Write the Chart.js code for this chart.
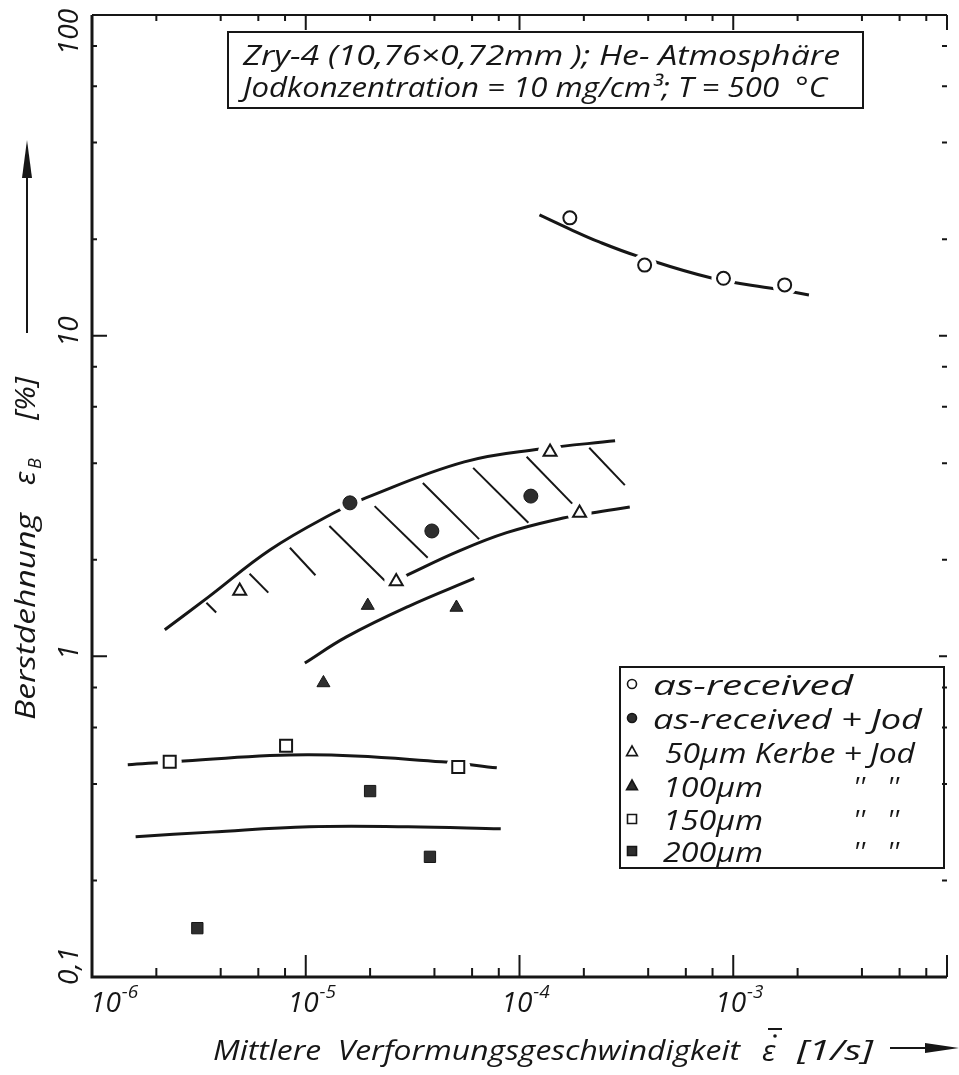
<!DOCTYPE html>
<html>
<head>
<meta charset="utf-8">
<title>Berstdehnung</title>
<script src="https://cdn.jsdelivr.net/npm/chart.js@4.4.0/dist/chart.umd.min.js"></script>
<style>
    html, body { margin: 0; padding: 0; background: #fff; }
    canvas { display: block; }
</style>
</head>
<body>
<canvas id="chart" width="959" height="1075"></canvas>
<script>
// ==================== DATA ====================

// measured points (strain rate 1/s, burst strain %)
const asReceivedX = [1.72e-4, 3.85e-4, 9.0e-4, 1.74e-3];
const asReceivedY = [23.3, 16.6, 15.1, 14.4];
const jodX = [1.61e-5, 3.89e-5, 1.13e-4];
const jodY = [3.01, 2.46, 3.16];
const kerbe50X = [4.91e-6, 2.65e-5, 1.39e-4, 1.91e-4];
const kerbe50Y = [1.60, 1.71, 4.34, 2.80];
const kerbe100X = [1.21e-5, 1.95e-5, 5.07e-5];
const kerbe100Y = [0.826, 1.44, 1.42];
const kerbe150X = [2.31e-6, 8.09e-6, 5.17e-5];
const kerbe150Y = [0.469, 0.526, 0.452];
const kerbe200X = [3.11e-6, 2.0e-5, 3.81e-5];
const kerbe200Y = [0.142, 0.380, 0.237];

// hand drawn fit curves
const curveAsRecX = [1.24e-4, 1.72e-4, 2.36e-4, 3.57e-4, 8.0e-4, 1.56e-3, 2.26e-3];
const curveAsRecY = [23.8, 21.5, 19.6, 17.7, 15.1, 14.0, 13.4];
const bandUpperX = [2.19e-6, 3.50e-6, 6.82e-6, 1.35e-5, 1.91e-5, 5.52e-5, 1.25e-4, 2.80e-4];
const bandUpperY = [1.21, 1.53, 2.15, 2.80, 3.12, 4.04, 4.43, 4.70];
const bandLowerX = [2.92e-5, 5.13e-5, 8.71e-5, 1.60e-4, 2.17e-4, 3.28e-4];
const bandLowerY = [1.78, 2.12, 2.43, 2.70, 2.80, 2.92];
const curve100X = [9.9e-6, 1.55e-5, 3.01e-5, 6.14e-5];
const curve100Y = [0.953, 1.15, 1.43, 1.75];
const curve150X = [1.47e-6, 2.69e-6, 1.04e-5, 4.33e-5, 7.83e-5];
const curve150Y = [0.459, 0.472, 0.493, 0.469, 0.449];
const curve200X = [1.60e-6, 3.61e-6, 1.04e-5, 3.01e-5, 8.17e-5];
const curve200Y = [0.274, 0.283, 0.294, 0.294, 0.290];

// hatching between the two band curves
const hatchFromX = [3.43e-6, 5.46e-6, 8.43e-6, 1.29e-5, 2.10e-5, 3.53e-5, 6.07e-5, 1.08e-4, 2.12e-4];
const hatchFromY = [1.47, 1.81, 2.18, 2.55, 2.94, 3.47, 3.87, 4.19, 4.47];
const hatchToX = [3.81e-6, 6.68e-6, 1.11e-5, 2.41e-5, 3.72e-5, 6.47e-5, 1.10e-4, 1.83e-4, 3.11e-4];
const hatchToY = [1.37, 1.58, 1.79, 1.69, 2.03, 2.32, 2.61, 2.92, 3.42];

// axis ticks
const xTickExponents = [-6, -5, -4, -3];
const yTickValues = [100, 10, 1, 0.1];
const yTickLabels = ['100', '10', '1', '0,1'];
const minorSteps = [2, 4, 6, 8];

const legendLabels = ['as-received', 'as-received + Jod', '50µm Kerbe + Jod', '100µm', '150µm', '200µm'];

// ==================== HELPERS ====================

const INK = '#161616';
const FILL = '#2e2e2e';
const FONT = '"Open Sans", "DejaVu Sans", sans-serif';

function pts(xs, ys) {
    return xs.map((x, i) => ({ x: x, y: ys[i] }));
}

function curve(xs, ys) {
    return {
        data: pts(xs, ys),
        showLine: true,
        pointRadius: 0,
        borderColor: INK,
        borderWidth: 3,
        tension: 0.4,
        order: 3
    };
}

function markers(xs, ys, style, radius, filled) {
    return {
        data: pts(xs, ys),
        showLine: false,
        pointStyle: style,
        pointRadius: radius,
        pointBackgroundColor: filled ? FILL : '#fff',
        pointBorderColor: INK,
        pointBorderWidth: filled ? 1 : 2,
        order: 1
    };
}

// white disc under a marker so the curve breaks around it
function halo(xs, ys, flags) {
    return {
        data: pts(xs, ys),
        showLine: false,
        pointStyle: 'circle',
        pointRadius: flags.map(f => f ? 12 : 0),
        pointBackgroundColor: '#fff',
        pointBorderWidth: 0,
        order: 2
    };
}

function fitText(ctx, text, x, y, width) {
    const m = ctx.measureText(text).width;
    ctx.save();
    ctx.translate(x, y);
    ctx.scale(width / m, 1);
    ctx.fillText(text, 0, 0);
    ctx.restore();
}

function drawMarker(ctx, style, x, y, s, filled) {
    ctx.beginPath();
    if (style === 'circle') {
        ctx.arc(x, y, s, 0, Math.PI * 2);
    } else if (style === 'triangle') {
        ctx.moveTo(x, y - s);
        ctx.lineTo(x + s * 0.9, y + s * 0.6);
        ctx.lineTo(x - s * 0.9, y + s * 0.6);
        ctx.closePath();
    } else {
        ctx.rect(x - s, y - s, s * 2, s * 2);
    }
    ctx.fillStyle = filled ? FILL : '#fff';
    ctx.fill();
    ctx.lineWidth = 1.6;
    ctx.strokeStyle = INK;
    ctx.stroke();
}

// ==================== DECORATION PLUGIN ====================

const framePlugin = {
    id: 'frame',
    afterDraw(chart) {
        const ctx = chart.ctx;
        const xs = chart.scales.x;
        const ys = chart.scales.y;
        const a = chart.chartArea;
        ctx.save();
        ctx.strokeStyle = INK;
        ctx.fillStyle = INK;

        // frame
        ctx.lineWidth = 3;
        ctx.beginPath();
        ctx.moveTo(a.left, a.top);
        ctx.lineTo(a.left, a.bottom);
        ctx.lineTo(a.right, a.bottom);
        ctx.stroke();
        ctx.lineWidth = 2;
        ctx.beginPath();
        ctx.moveTo(a.left, a.top);
        ctx.lineTo(a.right, a.top);
        ctx.stroke();

        // x ticks (inside, bottom and top)
        ctx.lineWidth = 2;
        xTickExponents.concat([-2]).forEach(e => {
            [1].concat(minorSteps).forEach(m => {
                const v = m * Math.pow(10, e);
                if (v > xs.max) return;
                const px = xs.getPixelForValue(v);
                const major = m === 1;
                ctx.beginPath();
                ctx.moveTo(px, a.bottom);
                ctx.lineTo(px, a.bottom - (major ? 22 : 9));
                ctx.moveTo(px, a.top);
                ctx.lineTo(px, a.top + (major ? 15 : 6));
                ctx.stroke();
            });
        });

        // y ticks (inside, left and right)
        [0.1, 1, 10].forEach(d => {
            [1].concat(minorSteps).forEach(m => {
                const py = ys.getPixelForValue(m * d);
                const major = m === 1;
                ctx.beginPath();
                ctx.moveTo(a.left, py);
                ctx.lineTo(a.left + (major ? 15 : 5), py);
                ctx.moveTo(a.right, py);
                ctx.lineTo(a.right - (major ? 8 : 5), py);
                ctx.stroke();
            });
        });

        // x tick labels 10^e
        xTickExponents.forEach(e => {
            const px = xs.getPixelForValue(Math.pow(10, e));
            const left = Math.max(px - 18, a.left - 2);
            ctx.font = 'italic 28px ' + FONT;
            ctx.textAlign = 'left';
            ctx.fillText('10', left, 1012);
            const w = ctx.measureText('10').width;
            ctx.font = 'italic 19px ' + FONT;
            ctx.fillText('-' + Math.abs(e), left + w + 1, 998);
        });

        // y tick labels (rotated)
        ctx.font = 'italic 28px ' + FONT;
        ctx.textAlign = 'center';
        yTickValues.forEach((v, i) => {
            const py = ys.getPixelForValue(v);
            const cy = Math.min(Math.max(py - 4, 32), 966);
            ctx.save();
            ctx.translate(78, cy);
            ctx.rotate(-Math.PI / 2);
            ctx.fillText(yTickLabels[i], 0, 0);
            ctx.restore();
        });

        // x axis title
        ctx.textAlign = 'left';
        ctx.font = 'italic 28px ' + FONT;
        fitText(ctx, 'Mittlere  Verformungsgeschwindigkeit', 213, 1060, 527);
        ctx.font = 'italic 30px ' + FONT;
        ctx.fillText('ε', 762, 1061);
        ctx.lineWidth = 2;
        ctx.beginPath();
        ctx.moveTo(768, 1029);
        ctx.lineTo(782, 1029);
        ctx.stroke();
        ctx.beginPath();
        ctx.arc(775, 1036, 1.8, 0, Math.PI * 2);
        ctx.fill();
        ctx.font = 'italic 28px ' + FONT;
        fitText(ctx, '[1/s]', 797, 1060, 76);
        ctx.lineWidth = 2;
        ctx.beginPath();
        ctx.moveTo(890, 1048);
        ctx.lineTo(928, 1048);
        ctx.stroke();
        ctx.beginPath();
        ctx.moveTo(959, 1048);
        ctx.lineTo(925, 1043);
        ctx.lineTo(925, 1053);
        ctx.closePath();
        ctx.fill();

        // y axis title (rotated)
        ctx.save();
        ctx.translate(35, 0);
        ctx.rotate(-Math.PI / 2);
        // after rotation: local x = -screen y, local y = screen x - 35
        ctx.font = 'italic 28px ' + FONT;
        fitText(ctx, 'Berstdehnung', -720, 0, 207);
        ctx.font = 'italic 30px ' + FONT;
        ctx.fillText('ε', -485, 0);
        ctx.font = 'italic 18px ' + FONT;
        ctx.fillText('B', -469, 6);
        ctx.font = 'italic 28px ' + FONT;
        fitText(ctx, '[%]', -420, 0, 43);
        ctx.restore();
        ctx.lineWidth = 2;
        ctx.beginPath();
        ctx.moveTo(27, 333);
        ctx.lineTo(27, 175);
        ctx.stroke();
        ctx.beginPath();
        ctx.moveTo(27, 140);
        ctx.lineTo(22, 178);
        ctx.lineTo(32, 178);
        ctx.closePath();
        ctx.fill();

        // title box
        ctx.lineWidth = 2;
        ctx.strokeRect(228, 32, 635, 76);
        ctx.font = 'italic 28px ' + FONT;
        ctx.textAlign = 'left';
        fitText(ctx, 'Zry-4 (10,76×0,72mm ); He- Atmosphäre', 243, 65, 597);
        fitText(ctx, 'Jodkonzentration = 10 mg/cm³; T = 500  °C', 243, 97, 584);

        // legend box
        ctx.lineWidth = 2;
        ctx.strokeRect(620, 667, 324, 201);
        const rowY = [695, 729, 763, 797, 830, 862];
        const widths = [200, 269, 250, 100, 100, 100];
        const starts = [653, 653, 665, 663, 663, 663];
        const styles = [['circle', false], ['circle', true], ['triangle', false], ['triangle', true], ['rect', false], ['rect', true]];
        legendLabels.forEach((label, i) => {
            const st = styles[i];
            const size = st[0] === 'circle' ? 4.5 : (st[0] === 'rect' ? 4.5 : 6);
            drawMarker(ctx, st[0], 632, rowY[i] - 11, size, st[1]);
            ctx.fillStyle = INK;
            ctx.font = 'italic 28px ' + FONT;
            fitText(ctx, label, starts[i], rowY[i], widths[i]);
            if (i >= 3) {
                ctx.fillText("''", 853, rowY[i]);
                ctx.fillText("''", 887, rowY[i]);
            }
        });

        ctx.restore();
    }
};

// ==================== CHART ====================

const hatchSets = hatchFromX.map((x, i) => ({
    data: [{ x: x, y: hatchFromY[i] }, { x: hatchToX[i], y: hatchToY[i] }],
    showLine: true,
    pointRadius: 0,
    borderColor: INK,
    borderWidth: 2,
    order: 3
}));

new Chart(document.getElementById('chart'), {
    type: 'scatter',
    data: {
        datasets: [
            curve(curveAsRecX, curveAsRecY),
            curve(bandUpperX, bandUpperY),
            curve(bandLowerX, bandLowerY),
            curve(curve100X, curve100Y),
            curve(curve150X, curve150Y),
            curve(curve200X, curve200Y),
            ...hatchSets,
            halo(asReceivedX, asReceivedY, [false, true, true, true]),
            halo(jodX, jodY, [true, false, false]),
            halo(kerbe50X, kerbe50Y, [false, true, true, true]),
            halo(kerbe150X, kerbe150Y, [true, false, true]),
            markers(asReceivedX, asReceivedY, 'circle', 6.5, false),
            markers(jodX, jodY, 'circle', 7, true),
            markers(kerbe50X, kerbe50Y, 'triangle', 7.5, false),
            markers(kerbe100X, kerbe100Y, 'triangle', 7.5, true),
            markers(kerbe150X, kerbe150Y, 'rect', 8.5, false),
            markers(kerbe200X, kerbe200Y, 'rect', 8, true)
        ]
    },
    options: {
        responsive: false,
        animation: false,
        devicePixelRatio: 1,
        layout: { padding: { left: 92, top: 15, right: 0, bottom: 98 } },
        plugins: {
            legend: { display: false },
            tooltip: { enabled: false }
        },
        scales: {
            x: { type: 'logarithmic', min: 1e-6, max: 1e-2, display: false },
            y: { type: 'logarithmic', min: 0.1, max: 100, display: false }
        }
    },
    plugins: [framePlugin]
});
</script>
</body>
</html>
